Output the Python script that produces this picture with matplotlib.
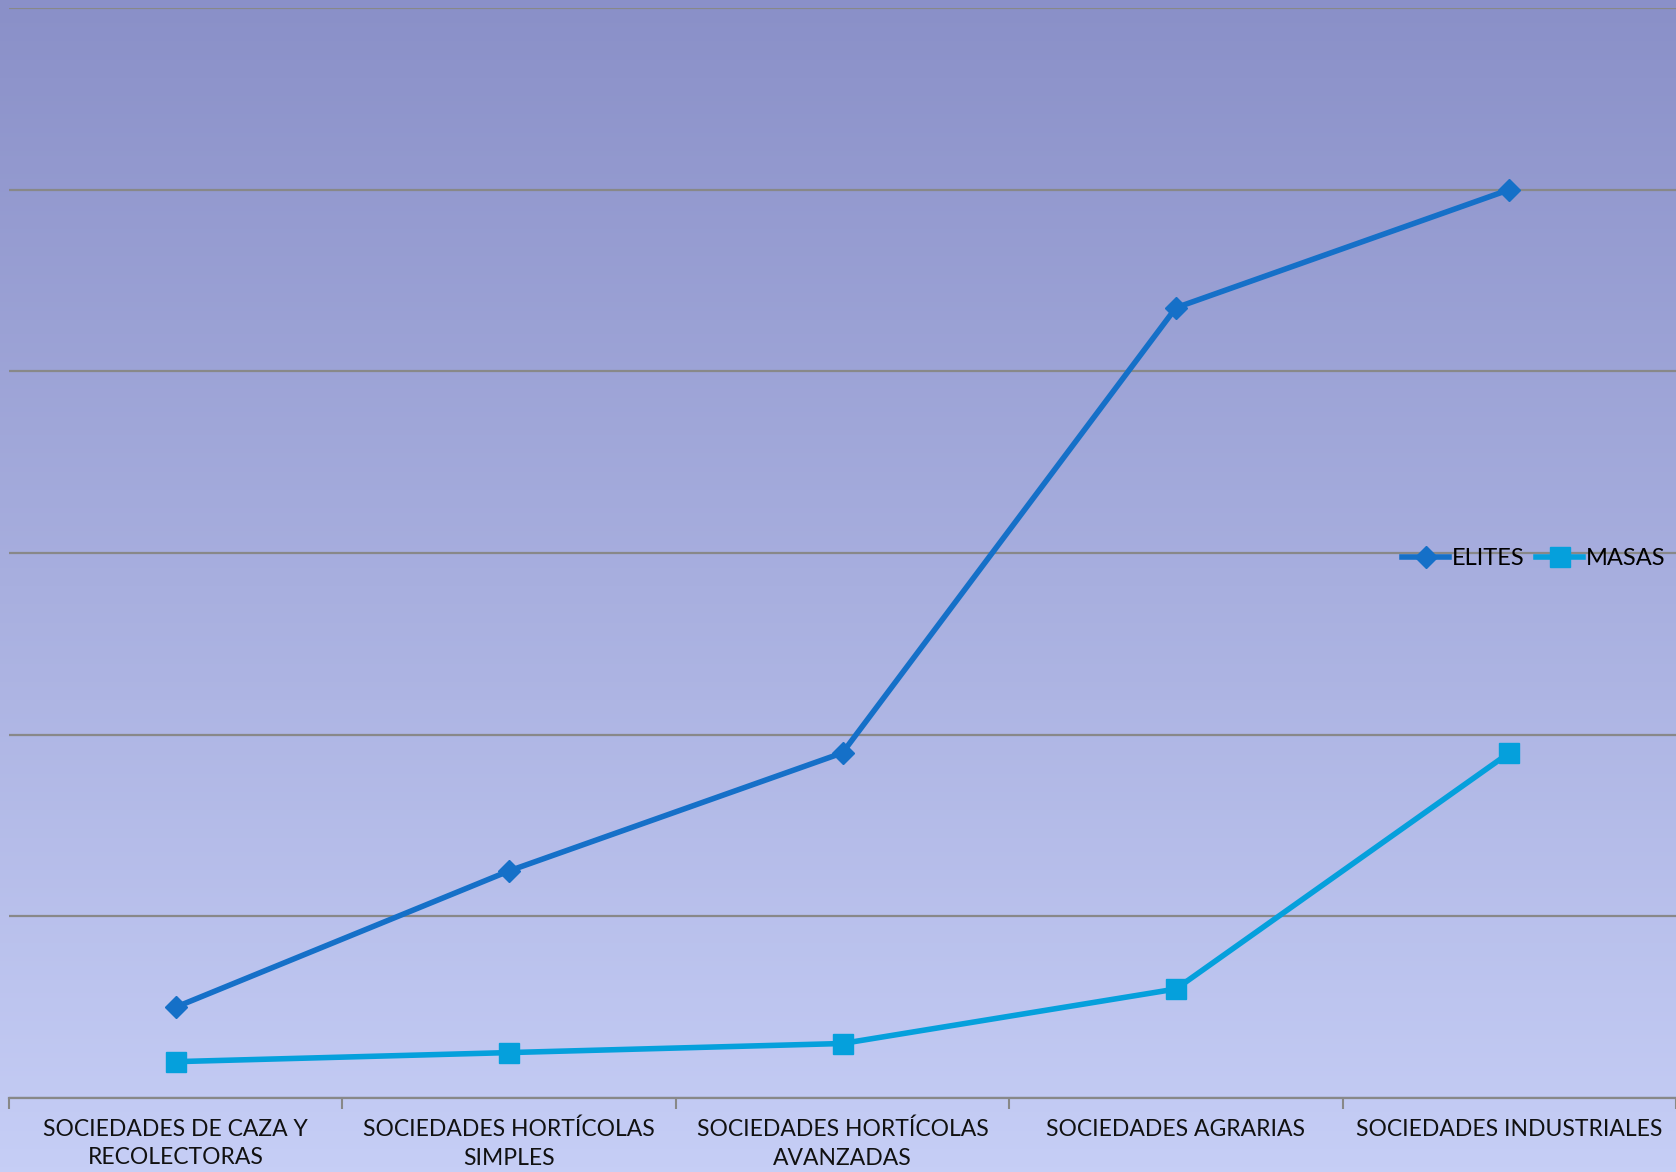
import numpy as np
import matplotlib.pyplot as plt

# Data
categories = ['SOCIEDADES DE CAZA Y\nRECOLECTORAS',
              'SOCIEDADES HORTÍCOLAS\nSIMPLES',
              'SOCIEDADES HORTÍCOLAS\nAVANZADAS',
              'SOCIEDADES AGRARIAS',
              'SOCIEDADES INDUSTRIALES']
elites = [0.5, 1.25, 1.9, 4.35, 5.0]
masas = [0.2, 0.25, 0.3, 0.6, 1.9]

ELITES_COLOR = '#1570c8'
MASAS_COLOR = '#05a0dc'
GRID_COLOR = '#888888'

plt.rcParams['font.family'] = ['Lato', 'DejaVu Sans']

fig = plt.figure(figsize=(16.76, 11.72), dpi=100)

# background gradient over the whole figure
bg = fig.add_axes([0, 0, 1, 1], zorder=-1)
grad = np.linspace(0, 1, 256).reshape(-1, 1)
top_c = np.array([138, 144, 200]) / 255
bot_c = np.array([198, 206, 246]) / 255
img = top_c + (bot_c - top_c) * grad[:, :, None]
bg.imshow(img, aspect='auto', extent=[0, 1, 0, 1])
bg.axis('off')

ax = fig.add_axes([9 / 1676, 1 - 1098 / 1172, 1 - 9 / 1676, (1098 - 8) / 1172])
ax.set_facecolor('none')

x = np.arange(len(categories))
ax.plot(x, elites, color=ELITES_COLOR, lw=4, marker='D', ms=11,
        zorder=3, label='ELITES')
ax.plot(x, masas, color=MASAS_COLOR, lw=4, marker='s', ms=14,
        zorder=3, label='MASAS')

ax.set_xlim(-0.5, len(categories) - 0.5)
ax.set_ylim(0, 6)
ax.set_yticks(np.arange(0, 7, 1))
ax.yaxis.grid(True, color=GRID_COLOR, lw=1.6)
ax.set_axisbelow(True)
ax.tick_params(axis='y', left=False, labelleft=False)

# category labels centred, tick marks on the boundaries
ax.set_xticks(x)
ax.set_xticklabels(categories, fontsize=16.5, color='#111111', linespacing=1.45)
ax.tick_params(axis='x', which='major', length=0, pad=15)
ax.set_xticks(np.arange(-0.5, len(categories), 1), minor=True)
ax.tick_params(axis='x', which='minor', length=8, width=1.5, color=GRID_COLOR)

for side in ['top', 'left', 'right']:
    ax.spines[side].set_visible(False)
ax.spines['bottom'].set_color(GRID_COLOR)
ax.spines['bottom'].set_linewidth(1.6)

ax.legend(loc='center right', bbox_to_anchor=(1.0, 0.495), ncol=2, frameon=False,
          fontsize=17, handlelength=2.0, handletextpad=0.1, columnspacing=0.5,
          borderaxespad=0.05)

fig.savefig('out.png', dpi=100)
